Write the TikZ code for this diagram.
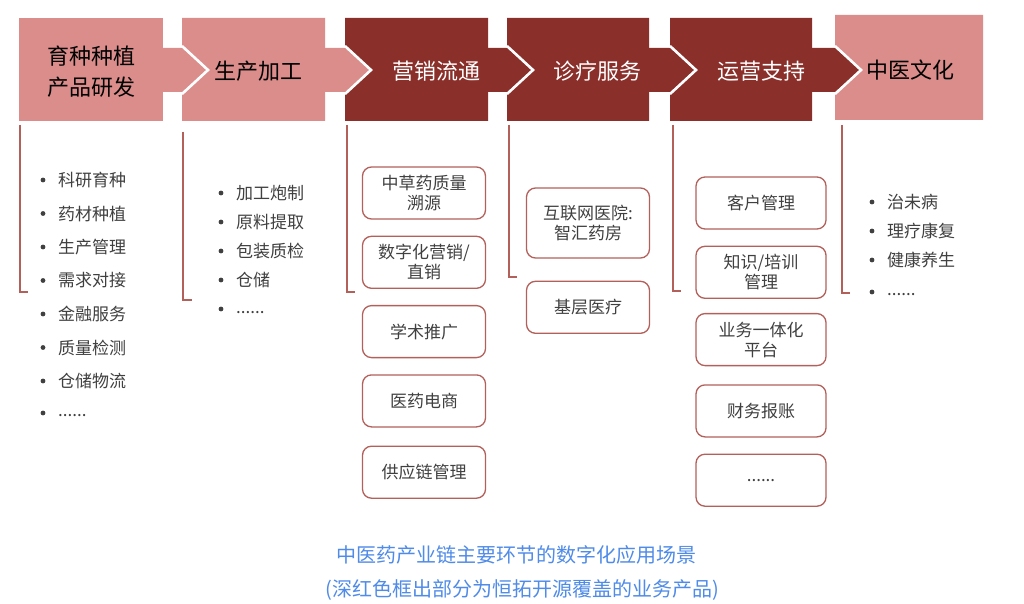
\documentclass[tikz,border=0pt]{standalone}
\usepackage{fontspec}
\newfontfamily\cjk{Noto Sans CJK SC}
\usetikzlibrary{positioning}
\definecolor{lite}{HTML}{DB8D8B}
\definecolor{dark}{HTML}{8A2F2A}
\definecolor{brd}{HTML}{B3605B}
\definecolor{txt}{HTML}{404040}
\definecolor{cap}{HTML}{4F8BE8}
\begin{document}
\begin{tikzpicture}[x=1pt,y=-1pt,
    head/.style={font=\cjk\fontsize{22}{31}\selectfont,align=center,inner sep=0pt},
    item/.style={font=\cjk\fontsize{17}{20}\selectfont,text=txt,anchor=west,inner sep=0pt},
    prod/.style={draw=brd,line width=1.3pt,rounded corners=9pt,minimum width=123pt,
        minimum height=52pt,align=center,text=txt,font=\cjk\fontsize{17}{20}\selectfont},
    bracket/.style={draw=brd,line width=1.3pt},
    gap/.style={draw=white,line width=2.6pt}]

    \useasboundingbox[fill=white] (0,0) rectangle (1024,604);

    % header boxes
    \fill[lite] (19,18) rectangle (163,121);
    \foreach \l/\r/\c in {182/325/lite,345/488/dark,507/649/dark,670/812/dark}
        \fill[\c] (\l,18) -- (\r,18) -- (\r,121) -- (\l,121) -- (\l,92)
            -- (\l+26,70) -- (\l,48) -- cycle;
    \fill[lite] (835,15) -- (983,15) -- (983,120) -- (835,120) -- (835,92)
        -- (861,70) -- (835,48) -- cycle;
    \foreach \r/\n/\c in {163/182/lite,325/345/lite,488/507/dark,649/670/dark,812/835/dark}{
        \fill[\c] (\r-1,48) -- (\n,48) -- (\n+26,70) -- (\n,92) -- (\r-1,92) -- cycle;
        \draw[gap] (\n,46) -- (\n+26,70) -- (\n,94);
    }

    \node[head] (h1) at (91,72) {育种种植\\产品研发};
    \node[head] (h2) at (258,71) {生产加工};
    \node[head,text=white] (h3) at (436,71) {营销流通};
    \node[head,text=white] (h4) at (597,71) {诊疗服务};
    \node[head,text=white] (h5) at (761,71) {运营支持};
    \node[head] (h6) at (910,70) {中医文化};

    % brackets
    \draw[bracket] (20,125) -- (20,292) -- (28,292);
    \draw[bracket] (183,132) -- (183,300) -- (192,300);
    \draw[bracket] (347,125) -- (347,292) -- (355,292);
    \draw[bracket] (509,125) -- (509,277) -- (517,277);
    \draw[bracket] (673,125) -- (673,291) -- (681,291);
    \draw[bracket] (842,125) -- (842,293) -- (850,293);

    % bullet lists
    \foreach \t [count=\i] in {科研育种,药材种植,生产管理,需求对接,金融服务,质量检测,仓储物流}{
        \node[item] (a\i) at (58,{180+33.5*(\i-1)}) {\t};
        \fill[txt] ([xshift=-15pt]a\i.west) circle (2.4pt);
    }
    \node[item] (a8) at (58,416) {......};
    \fill[txt] (43,413) circle (2.4pt);

    \foreach \t [count=\i] in {加工炮制,原料提取,包装质检,仓储}{
        \node[item] (b\i) at (236,{193+29*(\i-1)}) {\t};
        \fill[txt] ([xshift=-15pt]b\i.west) circle (2.4pt);
    }
    \node[item] (b5) at (236,313) {......};
    \fill[txt] (221,309) circle (2.4pt);

    \foreach \t [count=\i] in {治未病,理疗康复,健康养生}{
        \node[item] (f\i) at (887,{202+29*(\i-1)}) {\t};
        \fill[txt] ([xshift=-15pt]f\i.west) circle (2.4pt);
    }
    \node[item] (f4) at (887,295) {......};
    \fill[txt] (872,292) circle (2.4pt);

    % product boxes
    \node[prod] (m1) at (424,193) {中草药质量\\溯源};
    \node[prod] (m2) [below=16pt of m1] {数字化营销/\\直销};
    \node[prod] (m3) [below=16pt of m2] {学术推广};
    \node[prod] (m4) [below=16pt of m3] {医药电商};
    \node[prod] (m5) [below=18pt of m4] {供应链管理};

    \node[prod,minimum height=70pt] (d1) at (588,223) {互联网医院:\\智汇药房};
    \node[prod] (d2) [below=22pt of d1] {基层医疗};

    \node[prod,minimum width=130pt] (s1) at (761,203) {客户管理};
    \node[prod,minimum width=130pt] (s2) [below=16pt of s1] {知识/培训\\管理};
    \node[prod,minimum width=130pt] (s3) [below=14pt of s2] {业务一体化\\平台};
    \node[prod,minimum width=130pt] (s4) [below=18pt of s3] {财务报账};
    \node[prod,minimum width=130pt] (s5) [below=16pt of s4] {......};

    % caption
    \node[font=\cjk\fontsize{20}{24}\selectfont,text=cap] (c1) at (516,555)
        {中医药产业链主要环节的数字化应用场景};
    \node[font=\cjk\fontsize{20}{24}\selectfont,text=cap] (c2) at (522,590)
        {(深红色框出部分为恒拓开源覆盖的业务产品)};

\end{tikzpicture}
\end{document}
